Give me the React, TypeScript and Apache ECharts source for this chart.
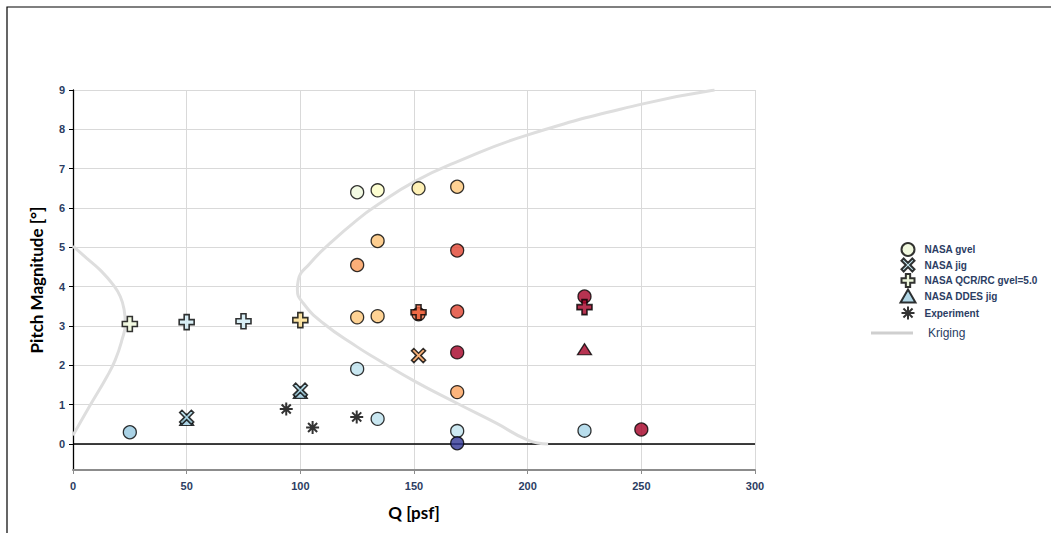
import React, { useEffect, useRef } from "react";
import * as echarts from "echarts";

// [Q, pitch, colour level]
const nasaGvel: number[][] = [
  [25, 0.3, 0.26],
  [125, 6.4, 0.45],
  [134, 6.45, 0.49],
  [152, 6.5, 0.56],
  [169, 6.54, 0.65],
  [134, 5.16, 0.66],
  [125, 4.55, 0.73],
  [169, 4.92, 0.87],
  [125, 3.22, 0.65],
  [134, 3.25, 0.65],
  [152, 3.3, 0.8],
  [169, 3.37, 0.87],
  [169, 2.33, 1.0],
  [125, 1.91, 0.33],
  [169, 1.32, 0.72],
  [134, 0.64, 0.33],
  [169, 0.33, 0.34],
  [169, 0.02, 0.0],
  [225, 0.34, 0.29],
  [250, 0.37, 1.0],
  [225, 3.75, 1.0],
];
const nasaJig: number[][] = [
  [50, 0.68, 0.3],
  [100, 1.37, 0.3],
  [152, 2.25, 0.72],
];
const nasaQcr: number[][] = [
  [25, 3.05, 0.45],
  [50, 3.1, 0.37],
  [75, 3.12, 0.37],
  [100, 3.15, 0.6],
  [152, 3.35, 0.82],
  [225, 3.48, 1.0],
];
const nasaDdes: number[][] = [
  [50, 0.61, 0.27],
  [100, 1.3, 0.27],
  [225, 2.41, 1.0],
];
const experiment: number[][] = [
  [93.8, 0.89],
  [105.4, 0.42],
  [124.8, 0.69],
];
const krigingLeft: number[][] = [
  [0, 0.22], [7.6, 0.99], [14.9, 1.71], [18.6, 2.14], [21.5, 2.64], [23, 3.07],
  [22.5, 3.41], [20.8, 3.75], [17.8, 4.04], [12, 4.42], [6.1, 4.72], [0, 5.03],
];
const krigingRight: number[][] = [
  [209, 0], [200.1, 0.1], [186.2, 0.53], [169.1, 1.03], [150.2, 1.6], [134, 2.15],
  [125, 2.47], [110.1, 3.07], [101.3, 3.58], [98.7, 3.92], [99.1, 4.17], [104.2, 4.59],
  [113, 5.1], [125, 5.7], [134, 6.08], [150.2, 6.67], [169.1, 7.18], [200.1, 7.86],
  [250.2, 8.64], [282.2, 9.0],
];
const legendNames = ["NASA gvel", "NASA jig", "NASA QCR/RC gvel=5.0", "NASA DDES jig", "Experiment"];
const xTicks = [0, 50, 100, 150, 200, 250, 300];

const NAVY = "#2b3d63";
const PLUS = "path://M-1,-3L1,-3L1,-1L3,-1L3,1L1,1L1,3L-1,3L-1,1L-3,1L-3,-1L-1,-1Z";
const XMARK = "path://M-3,-2L-2,-3L0,-1L2,-3L3,-2L1,0L3,2L2,3L0,1L-2,3L-3,2L-1,0Z";
const STAR = "path://M0,-4L0,4M-4,0L4,0M-2.8,-2.8L2.8,2.8M-2.8,2.8L2.8,-2.8";

export default function App() {
  const ref = useRef<HTMLDivElement>(null);
  useEffect(() => {
    const chart = echarts.init(ref.current!, undefined, { renderer: "svg" });
    const border = { borderColor: "#000", borderWidth: 1.3 };
    chart.setOption({
      animation: false,
      backgroundColor: "#fff",
      textStyle: { fontFamily: "Liberation Sans" },
      graphic: [
        {
          type: "rect",
          shape: { x: 7, y: 7, width: 1100, height: 600 },
          style: { fill: "none", stroke: "#000", lineWidth: 1.2 },
        },
      ],
      grid: { left: 73, right: 296, top: 90, bottom: 63 },
      visualMap: {
        show: false,
        type: "continuous",
        seriesIndex: [0, 1, 2, 3],
        dimension: 2,
        min: 0,
        max: 1,
        inRange: {
          color: ["#313695", "#4575b4", "#74add1", "#abd9e9", "#e0f3f8", "#ffffbf", "#fee090", "#fdae61", "#f46d43", "#d73027", "#a50026"],
        },
      },
      legend: [
        {
          data: legendNames,
          orient: "vertical",
          left: 899,
          top: 242,
          padding: 0,
          itemWidth: 15,
          itemHeight: 13,
          itemGap: 0.5,
          textStyle: { fontSize: 10, fontWeight: "bold", color: NAVY, padding: [0, 0, 0, 4], lineHeight: 13 },
        },
        {
          data: [{ name: "Kriging", icon: "rect" }],
          orient: "vertical",
          left: 871,
          top: 326,
          padding: 0,
          itemWidth: 42,
          itemHeight: 3,
          itemGap: 0,
          textStyle: { fontSize: 12, color: NAVY, padding: [0, 0, 0, 10], lineHeight: 14 },
        },
      ],
      xAxis: {
        type: "value",
        min: xTicks[0],
        max: xTicks[xTicks.length - 1],
        interval: 50,
        name: "Q [psf]",
        nameLocation: "middle",
        nameGap: 34,
        nameTextStyle: { fontFamily: "Lato", fontWeight: "bold", fontSize: 17, color: "#000" },
        axisLine: { onZero: false, lineStyle: { color: "#8c8c8c", width: 2 } },
        axisTick: { show: true, length: 4, lineStyle: { color: "#8c8c8c" } },
        axisLabel: { fontSize: 11, fontWeight: "bold", color: NAVY, margin: 10 },
        splitLine: { show: true, lineStyle: { color: "#d9d9d9", width: 1 } },
      },
      yAxis: {
        type: "value",
        min: -0.66,
        max: 9,
        splitNumber: 10,
        name: "Pitch Magnitude [°]",
        nameLocation: "middle",
        nameGap: 28,
        nameTextStyle: { fontFamily: "Lato", fontWeight: "bold", fontSize: 17, color: "#000" },
        axisLine: { show: true, onZero: false, lineStyle: { color: "#000", width: 1.3 } },
        axisTick: { show: true, length: 4, lineStyle: { color: "#000" } },
        axisLabel: { fontSize: 11, fontWeight: "bold", color: NAVY, margin: 8, showMinLabel: false },
        splitLine: { show: true, lineStyle: { color: "#d9d9d9", width: 1 } },
      },
      series: [
        {
          name: "NASA gvel",
          type: "scatter",
          data: nasaGvel,
          symbol: "circle",
          symbolSize: 13,
          itemStyle: { color: "#eef6d6", ...border },
          z: 3,
          markLine: {
            silent: true,
            symbol: "none",
            label: { show: false },
            lineStyle: { color: "#000", width: 1.5, type: "solid" },
            data: [{ yAxis: 0 }],
            z: 1,
          },
        },
        {
          name: "NASA DDES jig",
          type: "scatter",
          data: nasaDdes,
          symbol: "triangle",
          symbolSize: [14, 11],
          itemStyle: { color: "#9fcde0", ...border },
          z: 4,
        },
        {
          name: "NASA jig",
          type: "scatter",
          data: nasaJig,
          symbol: XMARK,
          symbolSize: 14,
          itemStyle: { color: "#b7dde9", ...border, borderWidth: 1.6 },
          z: 5,
        },
        {
          name: "NASA QCR/RC gvel=5.0",
          type: "scatter",
          data: nasaQcr,
          symbol: PLUS,
          symbolSize: 15,
          itemStyle: { color: "#eaf5d3", ...border, borderWidth: 1.6 },
          z: 6,
        },
        {
          name: "Experiment",
          type: "scatter",
          data: experiment,
          symbol: STAR,
          symbolSize: 13,
          itemStyle: { color: "none", borderColor: "#000", borderWidth: 2 },
          z: 7,
        },
        {
          name: "Kriging",
          type: "line",
          data: krigingLeft,
          smooth: true,
          showSymbol: false,
          symbol: "none",
          itemStyle: { color: "#cfcfcf" },
          lineStyle: { color: "#dedede", width: 3 },
          z: 2,
        },
        {
          name: "Kriging",
          type: "line",
          data: krigingRight,
          smooth: true,
          showSymbol: false,
          symbol: "none",
          itemStyle: { color: "#cfcfcf" },
          lineStyle: { color: "#dedede", width: 3 },
          z: 2,
        },
      ],
    });
    return () => chart.dispose();
  }, []);
  return (
    <div
      ref={ref}
      style={{ position: "absolute", left: 0, top: 0, width: 1051, height: 533 }}
    />
  );
}
